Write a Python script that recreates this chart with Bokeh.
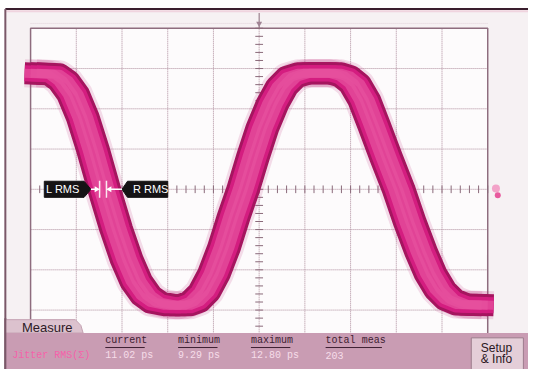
from bokeh.plotting import figure
from bokeh.models import Range1d, Label
from bokeh.embed import file_html
from bokeh.resources import INLINE
from math import pi

# ---- waveform (screen divisions: x -5..5, y -4..4) ----
wave_x = [-5.0, -4.49, -4.28, -4.07, -3.86, -3.64, -3.39, -3.13, -2.90, -2.69, -2.47, -2.26,
          -1.94, -1.62, -1.41, -1.20, -0.99, -0.77, -0.56, -0.35, -0.14, 0.07, 0.29, 0.50,
          0.71, 0.97, 1.67, 1.88, 2.09, 2.30, 2.51, 2.77, 3.05, 3.30, 3.54, 3.75, 3.96,
          4.17, 4.43, 5.0]
wave_y = [2.88, 2.86, 2.69, 2.36, 1.79, 1.00, 0.0, -0.98, -1.74, -2.29, -2.64, -2.81,
          -2.88, -2.88, -2.79, -2.55, -2.10, -1.45, -0.69, 0.0, 0.79, 1.52, 2.12, 2.55,
          2.79, 2.88, 2.88, 2.81, 2.62, 2.21, 1.60, 0.81, 0.0, -0.83, -1.55, -2.10, -2.50,
          -2.74, -2.86, -2.88]

# ---- measurement readout ----
meas_name = "Jitter RMS(\u03a3)"
meas_headers = ["current", "minimum", "maximum", "total meas"]
meas_values = ["11.02 ps", "9.29 ps", "12.80 ps", "203"]

# RMS cursor positions (divisions)
marker_l = -3.49
marker_r = -3.34

# ---- figure ----
p = figure(width=528, height=369, x_range=Range1d(-5.658, 5.892), y_range=Range1d(-4.476, 4.690),
           output_backend="svg", toolbar_location=None, min_border=0,
           x_axis_location=None, y_axis_location=None)
p.grid.visible = False
p.outline_line_color = None
p.background_fill_color = "white"
p.border_fill_color = "white"

# instrument screen area
p.quad(left=-5.552, right=6.0, bottom=-4.6, top=4.476, fill_color="#f6f1f3", line_color=None)
p.quad(left=-5, right=5, bottom=-4, top=4, fill_color="#fdfbfc", line_color=None)

# frame lines
p.segment(x0=-5.552, y0=4.476, x1=6.0, y1=4.476, line_color="#3a1e2e", line_width=2)
p.segment(x0=-5.53, y0=4.42, x1=6.0, y1=4.42, line_color="#f0d4df", line_width=2)
p.segment(x0=-5.552, y0=4.476, x1=-5.552, y1=-4.6, line_color="#7a5868", line_width=2)

# faint reference line near top
p.segment(x0=-5, y0=4.12, x1=5, y1=4.12, line_color="#e2d2da", line_dash="1 1", line_width=1)

# graticule
grid_col = "#ae8c9c"
for gx in range(-4, 5):
    p.segment(x0=gx, y0=-4, x1=gx, y1=4, line_color=grid_col, line_dash="1 1", line_width=1)
for gy in range(-3, 4):
    p.segment(x0=-5, y0=gy, x1=5, y1=gy, line_color=grid_col, line_dash="1 1", line_width=1)
p.quad(left=-5, right=5, bottom=-4, top=4, fill_color=None, line_color="#8e6c7e", line_width=1.5)

# center axis ticks
tick_col = "#8a6a7a"
ty = [i * 0.2 for i in range(-20, 21)]
p.segment(x0=[-0.085] * len(ty), y0=ty, x1=[0.085] * len(ty), y1=ty, line_color=tick_col, line_width=1)
tx = [i * 0.2 for i in range(-25, 26)]
p.segment(x0=tx, y0=[-0.095] * len(tx), x1=tx, y1=[0.095] * len(tx), line_color=tick_col, line_width=1)
p.segment(x0=0, y0=4.0, x1=0, y1=4.38, line_color=tick_col, line_width=1)
p.scatter(x=[0], y=[4.12], marker="inverted_triangle", size=6, fill_color="#a08494", line_color=None)

# waveform band (jittered eye trace)
offs = [-0.13, 0.0, 0.13]
layers = [(28, "#c23a84", 0.16, offs), (22, "#a5155f", 1.0, offs), (16, "#d41d80", 1.0, offs),
          (9, "#e6509e", 0.75, offs)]
for w, c, a, o_list in layers:
    p.multi_line(xs=[[x + o for x in wave_x] for o in o_list], ys=[wave_y] * len(o_list),
                 line_color=c, line_width=w, line_alpha=a, line_join="round", line_cap="butt")

# channel marker at right
p.scatter(x=[5.18], y=[0.02], marker="circle", size=8, fill_color="#f3a2c8", line_color=None)
p.scatter(x=[5.22], y=[-0.15], marker="circle", size=6, fill_color="#e85a9e", line_color=None)

# RMS cursor markers
l_tip = marker_l - 0.19
lb_right = l_tip - 0.15
lb_left = lb_right - 0.87
r_tip = marker_r + 0.34
rb_left = r_tip + 0.12
rb_right = rb_left + 0.88
p.patches(xs=[[lb_left, lb_right, l_tip, lb_right, lb_left],
              [rb_right, rb_left, r_tip, rb_left, rb_right]],
          ys=[[0.2, 0.2, 0, -0.2, -0.2], [0.2, 0.2, 0, -0.2, -0.2]],
          fill_color="#151315", line_color="#151315")
p.segment(x0=[marker_l, marker_r], y0=[-0.21, -0.21], x1=[marker_l, marker_r], y1=[0.21, 0.21],
          line_color="#fbe8f0", line_width=1.5)
p.segment(x0=[l_tip, r_tip], y0=[0, 0], x1=[marker_l - 0.05, marker_r + 0.05], y1=[0, 0],
          line_color="white", line_width=1.5)
p.scatter(x=[marker_l - 0.07], y=[0], marker="triangle", angle=-pi / 2, size=6,
          fill_color="white", line_color=None)
p.scatter(x=[marker_r + 0.07], y=[0], marker="triangle", angle=pi / 2, size=6,
          fill_color="white", line_color=None)
p.add_layout(Label(x=lb_left + 0.04, y=0, text="L RMS", text_color="white", text_font="Liberation Sans",
                   text_font_size="11px", text_baseline="middle", text_align="left"))
p.add_layout(Label(x=rb_left + 0.12, y=0, text="R RMS", text_color="white", text_font="Liberation Sans",
                   text_font_size="11px", text_baseline="middle", text_align="left"))

# ---- measure panel ----
p.patches(xs=[[-5.552, -5.552, -4.02, -3.9, -3.85]], ys=[[-3.571, -3.238, -3.238, -3.38, -3.571]],
          fill_color="#dcc2ce", line_color="#c4a2b2", line_width=1)
p.quad(left=-5.552, right=6.0, bottom=-4.6, top=-3.571, fill_color="#c99cb3", line_color=None)
p.segment(x0=-5.552, y0=-3.2, x1=-5.552, y1=-4.6, line_color="#7a5868", line_width=2)
p.add_layout(Label(x=-5.19, y=-3.43, text="Measure", text_color="#2e1a26", text_font="Liberation Sans",
                   text_font_size="13px", text_baseline="middle", text_align="left"))
mono = "Liberation Mono"
p.add_layout(Label(x=-5.40, y=-4.12, text=meas_name, text_color="#f562aa", text_font=mono,
                   text_font_size="10px", text_baseline="middle", text_align="left"))
meas_x = [-3.365, -1.773, -0.18, 1.454]
cw = 5.8 / 47.1
for hx, h, v in zip(meas_x, meas_headers, meas_values):
    p.add_layout(Label(x=hx, y=-3.76, text=h, text_color="#3e2032", text_font=mono,
                       text_font_size="10px", text_baseline="middle", text_align="left"))
    p.segment(x0=hx, y0=-3.93, x1=hx + len(h) * cw, y1=-3.93, line_color="#3e2032", line_width=1)
    p.add_layout(Label(x=hx, y=-4.12, text=v, text_color="#f6dde9", text_font=mono,
                       text_font_size="10px", text_baseline="middle", text_align="left"))

# Setup & Info button
p.quad(left=4.64, right=5.78, bottom=-4.55, top=-3.69, fill_color="#e4ced8", line_color="#9c7c8c", line_width=1)
p.add_layout(Label(x=5.19, y=-3.93, text="Setup", text_color="#2a1622", text_font="Liberation Sans",
                   text_font_size="12px", text_baseline="middle", text_align="center"))
p.add_layout(Label(x=5.19, y=-4.21, text="& Info", text_color="#2a1622", text_font="Liberation Sans",
                   text_font_size="12px", text_baseline="middle", text_align="center"))

open("out.html", "w").write(file_html(p, INLINE))
